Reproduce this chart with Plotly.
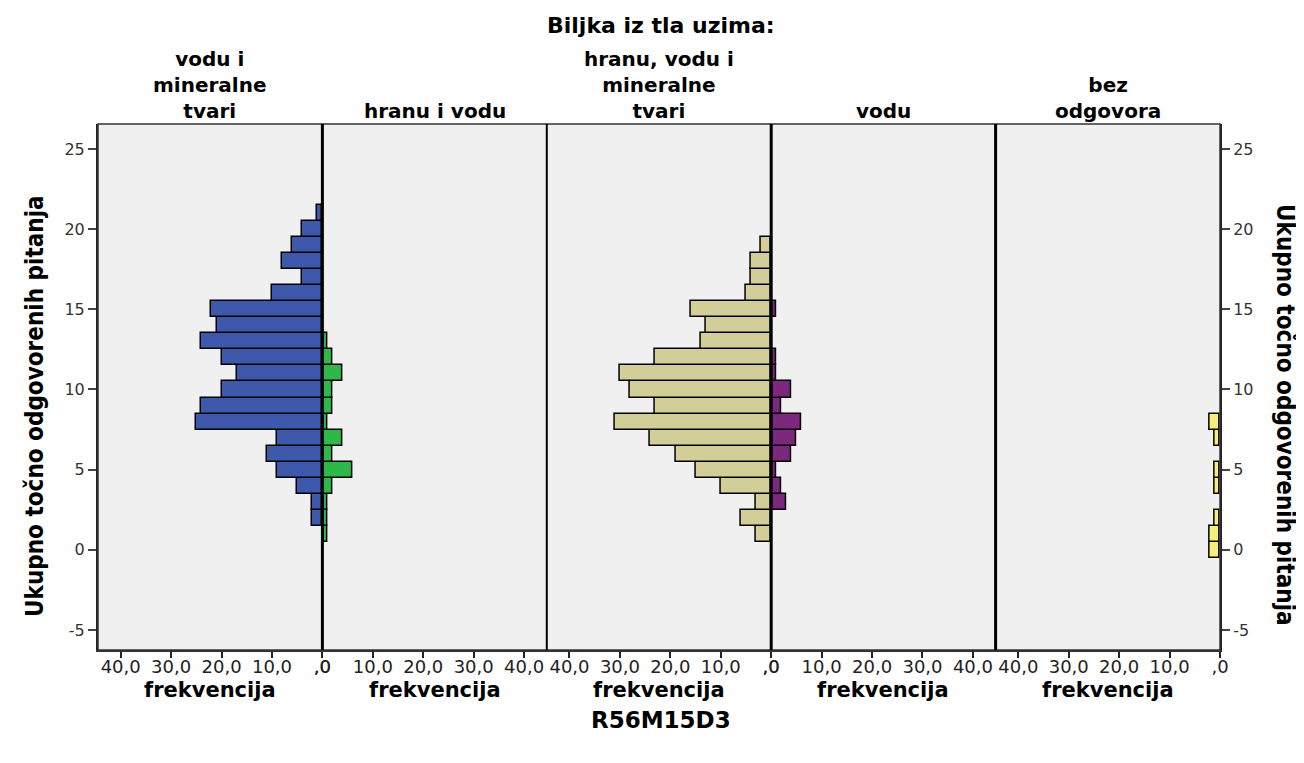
import plotly.graph_objects as go

# ---- data ----
scores = list(range(22))  # Ukupno točno odgovorenih pitanja (0..21)

panel_titles = ["vodu i<br>mineralne<br>tvari", "hranu i vodu",
                "hranu, vodu i<br>mineralne<br>tvari", "vodu", "bez<br>odgovora"]

freq_vodu_mineralne = [0, 0, 2, 2, 5, 9, 11, 9, 25, 24, 20, 17, 20, 24, 21, 22, 10, 4, 8, 6, 4, 1]
freq_hranu_vodu = [0, 1, 1, 1, 2, 6, 2, 4, 1, 2, 2, 4, 2, 1, 0, 0, 0, 0, 0, 0, 0, 0]
freq_hranu_vodu_mineralne = [0, 3, 6, 3, 10, 15, 19, 24, 31, 23, 28, 30, 23, 14, 13, 16, 5, 4, 4, 2, 0, 0]
freq_vodu = [0, 0, 0, 3, 2, 1, 4, 5, 6, 2, 4, 1, 1, 0, 0, 1, 0, 0, 0, 0, 0, 0]
freq_bez_odgovora = [2, 2, 1, 0, 1, 1, 0, 1, 2, 0, 0, 0, 0, 0, 0, 0, 0, 0, 0, 0, 0, 0]

series = [freq_vodu_mineralne, freq_hranu_vodu, freq_hranu_vodu_mineralne, freq_vodu, freq_bez_odgovora]
colors = ["#3E58AC", "#2EB848", "#D3CE97", "#7C287D", "#F5EF7A"]
reversed_panel = [True, False, True, False, True]

x_tickvals = [0, 10, 20, 30, 40]
x_ticktext = [",0", "10,0", "20,0", "30,0", "40,0"]
y_tickvals = [-5, 0, 5, 10, 15, 20, 25]
y_ticktext = ["-5", "0", "5", "10", "15", "20", "25"]

XMAX = 44.5
YRANGE = [-6.25, 26.56]

# page is rendered with an 8px body margin
W, H = 1296, 755
PL, PR, PT, PB = 98, 1220, 124, 650  # plot area in window pixels


def px(xp):
    return (xp - PL) / (PR - PL)


def py(yp):
    return (PB - yp) / (PB - PT)


fig = go.Figure()
for i, (vals, col) in enumerate(zip(series, colors)):
    xs = [v if v > 0 else None for v in vals]
    fig.add_trace(go.Bar(
        x=xs, y=scores, orientation="h", width=1.0,
        marker=dict(color=col, line=dict(color="black", width=1.5)),
        xaxis="x" if i == 0 else f"x{i+1}",
        yaxis="y2" if i == 4 else "y",
        showlegend=False, hoverinfo="skip",
    ))

xtickfont = dict(family="DejaVu Sans, Liberation Sans, Arial", size=18, color="#222")
ytickfont = dict(family="DejaVu Sans, Liberation Sans, Arial", size=16, color="#333")
layout = dict(
    width=W, height=H,
    margin=dict(l=PL - 8, r=W - (PR - 8), t=PT - 8, b=H - (PB - 8), autoexpand=False),
    paper_bgcolor="white", plot_bgcolor="#F0F0F0",
    bargap=0, barmode="overlay",
)
for i in range(5):
    key = "xaxis" if i == 0 else f"xaxis{i+1}"
    layout[key] = dict(
        domain=[i * 0.2, (i + 1) * 0.2],
        anchor="y2" if i == 4 else "y",
        range=[XMAX, 0] if reversed_panel[i] else [0, XMAX],
        tickvals=x_tickvals, ticktext=x_ticktext,
        ticks="outside", ticklen=6, tickwidth=2, tickcolor="#222",
        tickfont=xtickfont, showgrid=False, zeroline=False,
        showline=True, linecolor="#333", linewidth=1.5,
        ticklabelstandoff=-6, automargin=False,
    )
yax = dict(
    domain=[0, 1], range=YRANGE,
    tickvals=y_tickvals, ticktext=y_ticktext,
    ticks="outside", ticklen=8, tickwidth=1.5, tickcolor="#444",
    tickfont=ytickfont, showgrid=False, zeroline=False,
    showline=True, linecolor="#222", linewidth=2, automargin=False,
)
layout["yaxis"] = dict(yax, anchor="x", side="left")
layout["yaxis2"] = dict(yax, anchor="x5", side="right", matches="y")
fig.update_layout(**layout)

# frame and panel dividers
fig.add_shape(type="rect", xref="paper", yref="paper", x0=0, x1=1, y0=0, y1=1,
              line=dict(color="#333", width=1.5))
for xp, w in [(0.2, 3), (0.4, 2), (0.6, 3), (0.8, 3)]:
    fig.add_shape(type="line", xref="paper", yref="paper", x0=xp, x1=xp, y0=0, y1=1,
                  line=dict(color="black", width=w))

bold = "DejaVu Sans, Liberation Sans, Arial"
fig.add_annotation(text="Biljka iz tla uzima:", xref="paper", yref="paper",
                   x=px(661), y=py(25), showarrow=False, xanchor="center", yanchor="middle",
                   font=dict(family=bold, size=22, color="black", weight="bold"))
for i, t in enumerate(panel_titles):
    cx = 0.1 + 0.2 * i
    fig.add_annotation(text=t, xref="paper", yref="paper",
                       x=cx, y=py(125), xanchor="center", yanchor="bottom", showarrow=False,
                       align="center",
                       font=dict(family=bold, size=20, color="black", weight="bold"))
    fig.add_annotation(text="frekvencija", xref="paper", yref="paper",
                       x=cx, y=py(690), xanchor="center", yanchor="middle", showarrow=False,
                       font=dict(family=bold, size=21, color="black", weight="bold"))
fig.add_annotation(text="R56M15D3", xref="paper", yref="paper",
                   x=px(661), y=py(720), xanchor="center", yanchor="middle", showarrow=False,
                   font=dict(family=bold, size=23, color="black", weight="bold"))

ytitle_font = dict(family="Liberation Sans Narrow, DejaVu Sans Condensed, Arial Narrow, sans-serif",
                   size=24, color="black", weight="bold")
fig.add_annotation(text="Ukupno točno odgovorenih pitanja", xref="paper", yref="paper",
                   x=px(35), y=py(406), textangle=-90, showarrow=False,
                   xanchor="center", yanchor="middle", font=ytitle_font)
fig.add_annotation(text="Ukupno točno odgovorenih pitanja", xref="paper", yref="paper",
                   x=px(1285), y=py(415), textangle=90, showarrow=False,
                   xanchor="center", yanchor="middle", font=ytitle_font)

fig.write_html("out.html")
